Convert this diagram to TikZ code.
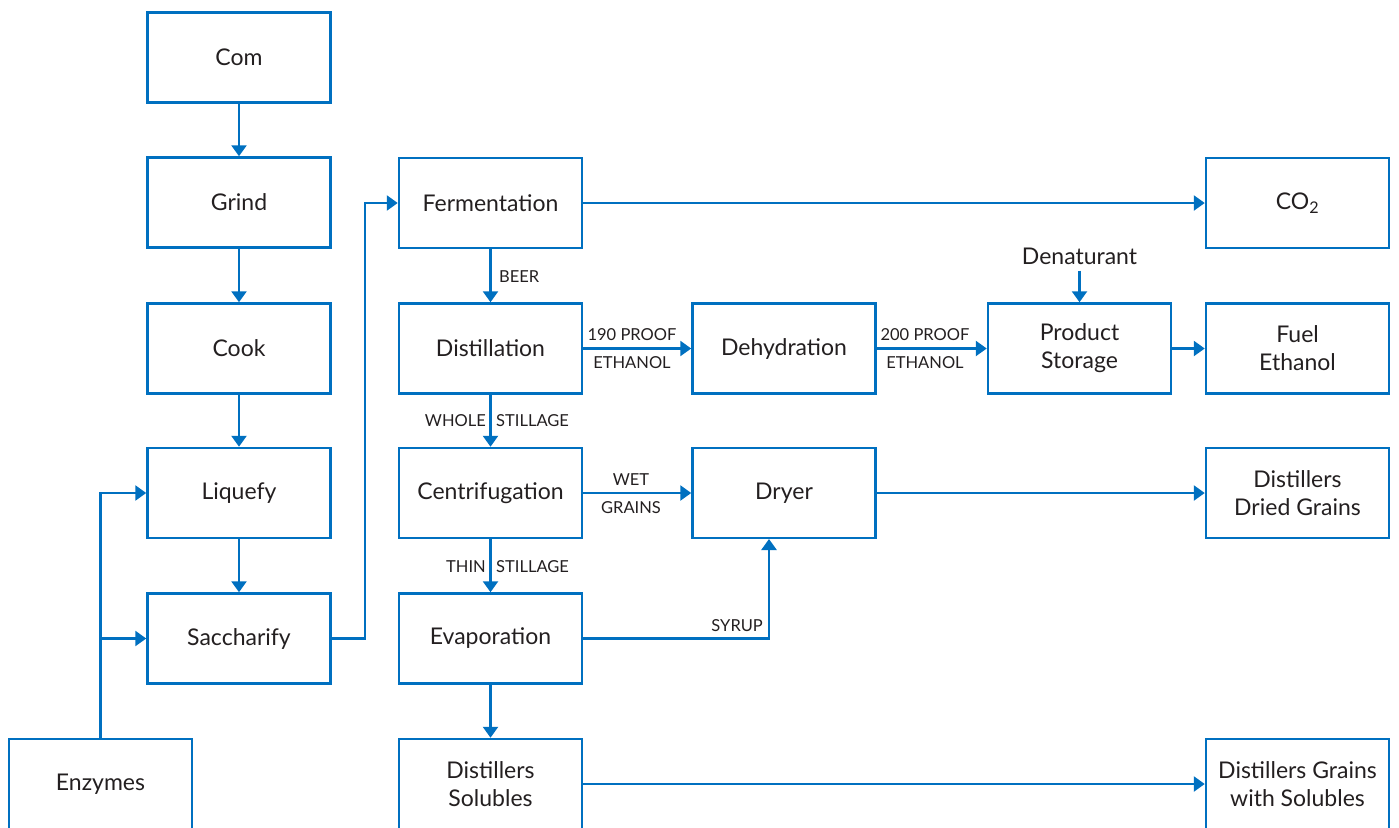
\documentclass[tikz,border=0pt]{standalone}
\usepackage{fontspec}
\setmainfont{Lato}
\usetikzlibrary{arrows.meta}
\definecolor{fblue}{RGB}{0,112,192}
\definecolor{ftext}{RGB}{35,31,32}
\tikzset{
  box/.style={draw=fblue, line width=2.5pt, minimum width=183pt, minimum height=90pt, inner sep=0pt, align=center, text=ftext, font=\fontsize{23}{28}\selectfont},
  flow/.style={draw=fblue, line width=2.5pt, -{Triangle[width=15pt,length=11pt]}},
  lbl/.style={text=ftext, font=\fontsize{16.5}{18}\selectfont, inner sep=0pt},
}
\begin{document}
\begin{tikzpicture}[x=1pt,y=-1pt]
\useasboundingbox (0,0) rectangle (1399,827);
\clip (0,0) rectangle (1399,827);
% column 1
\node[box] (com) at (239,57.5) {Com};
\node[box] (grind) at (239,202.5) {Grind};
\node[box] (cook) at (239,348.5) {Cook};
\node[box] (liq) at (239,493) {Liquefy};
\node[box] (sac) at (239,638.5) {Saccharify};
\node[box] (enz) at (100.5,784) {Enzymes};
% column 2
\node[box] (fer) at (490.5,203) {Fermentation};
\node[box] (dis) at (490.5,348.5) {Distillation};
\node[box] (cen) at (490.5,493) {Centrifugation};
\node[box] (eva) at (490.5,638.5) {Evaporation};
\node[box] (dsol) at (490.5,784) {Distillers\\Solubles};
% column 3
\node[box] (deh) at (784,348.5) {Dehydration};
\node[box] (dry) at (784,493) {Dryer};
% column 4
\node[box] (ps) at (1079.5,348.5) {Product\\Storage};
\node[text=ftext, font=\fontsize{23}{28}\selectfont, inner sep=0pt] (den) at (1079.5,256) {Denaturant};
% column 5
\node[box] (co2) at (1297.5,203) {CO\textsubscript{2}};
\node[box] (fuel) at (1297.5,348.5) {Fuel\\Ethanol};
\node[box] (ddg) at (1297.5,493) {Distillers\\Dried Grains};
\node[box] (dgws) at (1297.5,784) {Distillers Grains\\with Solubles};
% column 1 flow
\draw[flow] (com) -- (grind);
\draw[flow] (grind) -- (cook);
\draw[flow] (cook) -- (liq);
\draw[flow] (liq) -- (sac);
\draw[flow] (sac.east) -- (365,638.5) |- (fer.west);
\coordinate (ej) at (100.5,638.5);
\draw[flow] (enz.north) |- (liq.west);
\draw[flow] (ej) -- (sac.west);
% column 2 flow
\draw[flow] (fer) -- (co2);
\draw[flow] (fer) -- (dis);
\node[lbl, anchor=west] (beer) at (499,277) {BEER};
\draw[flow] (dis) -- (deh);
\node[lbl] (l190) at (632,335) {190 PROOF};
\node[lbl] (l190b) at (632,363) {ETHANOL};
\draw[flow] (dis) -- (cen);
\node[lbl, anchor=east] (whole) at (486,421) {WHOLE};
\node[lbl, anchor=west] (still1) at (496,421) {STILLAGE};
\draw[flow] (deh) -- (ps);
\node[lbl] (l200) at (925,335) {200 PROOF};
\node[lbl] (l200b) at (925,363) {ETHANOL};
\draw[flow] (den.south) ++(0,6) -- (ps.north);
\draw[flow] (ps) -- (fuel);
\draw[flow] (cen) -- (dry);
\node[lbl] (wet) at (631,480) {WET};
\node[lbl] (grains) at (631,508) {GRAINS};
\draw[flow] (cen) -- (eva);
\node[lbl, anchor=east] (thin) at (486,567) {THIN};
\node[lbl, anchor=west] (still2) at (496,567) {STILLAGE};
\draw[flow] (eva.east) -| (769,539);
\node[lbl, anchor=east] (syrup) at (763,626) {SYRUP};
\draw[flow] (dry) -- (ddg);
\draw[flow] (eva) -- (dsol);
\draw[flow] (dsol) -- (dgws);
\end{tikzpicture}
\end{document}
